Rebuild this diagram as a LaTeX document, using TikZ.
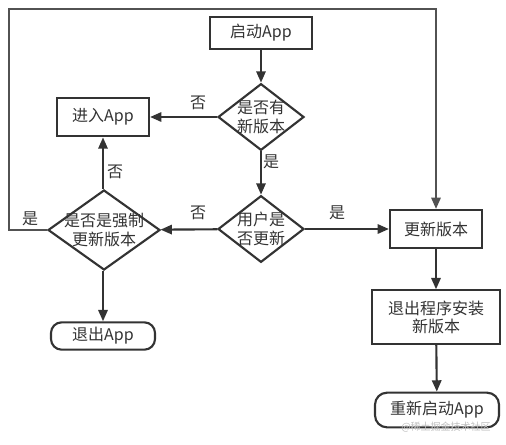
\documentclass[tikz,border=0pt]{standalone}
\usepackage{fontspec}
\setmainfont{Noto Sans CJK SC}
\usetikzlibrary{shapes.geometric,arrows.meta}
\definecolor{ink}{HTML}{333333}
\begin{document}
\begin{tikzpicture}[x=0.75pt,y=-0.75pt,
  every node/.style={text=ink,font=\fontsize{12}{14.5}\selectfont,align=center},
  procbox/.style={draw=ink,line width=1.6pt,rectangle,inner sep=0pt},
  termbox/.style={draw=ink,line width=1.6pt,rectangle,rounded corners=9pt,inner sep=0pt},
  decision/.style={draw=ink,line width=1.6pt,diamond,inner sep=0pt},
  flow/.style={draw=ink,line width=1.6pt,-{Triangle[length=8.5pt,width=7pt]}},
  lbl/.style={inner sep=0pt}]
\useasboundingbox (0,0) rectangle (506,444);
\fill[white] (0,0) rectangle (506,444);
% nodes
\node[procbox,minimum width=76.5pt,minimum height=24pt] (start) at (261,33) {启动App};
\node[decision,minimum width=64.5pt,minimum height=50pt] (d1) at (261,117) {};
\node[lbl] (d1t) at (261,117) {是否有\\新版本};
\node[procbox,minimum width=69pt,minimum height=29pt] (enter) at (103,117) {进入App};
\node[decision,minimum width=64.5pt,minimum height=50pt] (d2) at (261,229) {};
\node[lbl] (d2t) at (261,229) {用户是\\否更新};
\node[decision,minimum width=84pt,minimum height=60pt] (d3) at (104,230) {};
\node[lbl] (d3t) at (104,230) {是否是强制\\更新版本};
\node[procbox,minimum width=69pt,minimum height=28.5pt] (update) at (436,229) {更新版本};
\node[procbox,minimum width=96pt,minimum height=40pt,font=\fontsize{12}{13.5}\selectfont] (install) at (436,317) {退出程序安装\\新版本};
\node[termbox,minimum width=93pt,minimum height=26pt] (restart) at (437,410) {重新启动App};
\node[termbox,minimum width=78pt,minimum height=20.5pt,rounded corners=8pt] (exitapp) at (103,336) {退出App};
% labels
\node[lbl] (l1) at (198,103) {否};
\node[lbl] (l2) at (271,162) {是};
\node[lbl] (l3) at (198,213) {否};
\node[lbl] (l4) at (337,213) {是};
\node[lbl] (l5) at (30,219) {是};
\node[lbl] (l6) at (115,172) {否};
% loop corners
\coordinate (c1) at (9,230);
\coordinate (c2) at (9,9);
\coordinate (c3) at (436,9);
% connectors
\draw[flow] (start) -- (d1);
\draw[flow] (d1) -- (enter);
\draw[flow] (d1) -- (d2);
\draw[flow] (d2) -- (update);
\draw[flow] (d2) -- (d3);
\draw[flow] (d3.north -| enter) -- (enter);
\draw[flow] (d3.south -| exitapp) -- (exitapp);
\draw[flow] (update) -- (install);
\draw[flow] (install) -- (restart);
\draw[flow,draw=ink!85] (d3.west) -- (c1) -- (c2) -- (c3) -- (update.north);
% watermark
\node[text=gray!50,font=\fontsize{7.5}{8}\selectfont,inner sep=0pt] (wm) at (446,427) {@稀土掘金技术社区};
\end{tikzpicture}
\end{document}
